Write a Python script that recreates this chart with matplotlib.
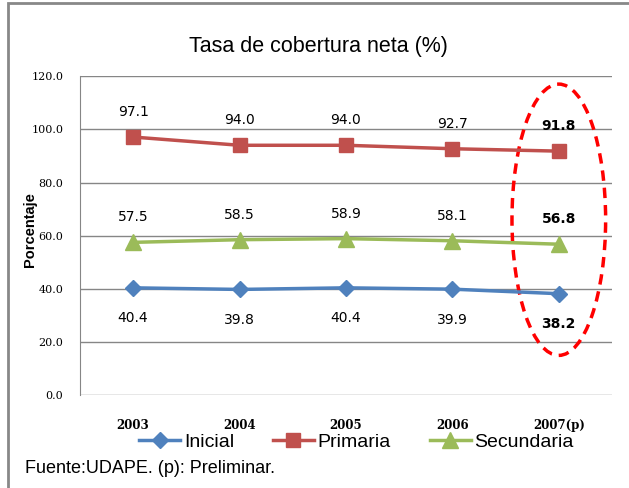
import matplotlib.pyplot as plt
from matplotlib.patches import Ellipse, Rectangle

years = ["2003", "2004", "2005", "2006", "2007(p)"]
inicial = [40.4, 39.8, 40.4, 39.9, 38.2]
primaria = [97.1, 94.0, 94.0, 92.7, 91.8]
secundaria = [57.5, 58.5, 58.9, 58.1, 56.8]
yticks = [0, 20, 40, 60, 80, 100, 120]

blue = "#4F81BD"
red = "#C0504D"
green = "#9BBB59"

fig = plt.figure(figsize=(6.29, 4.88), dpi=100)
ax = fig.add_axes([0.127, 0.19, 0.846, 0.654])

x = list(range(len(years)))
ax.plot(x, inicial, color=blue, lw=2.5, marker="D", ms=8, label="Inicial")
ax.plot(x, primaria, color=red, lw=2.5, marker="s", ms=10.5, label="Primaria")
ax.plot(x, secundaria, color=green, lw=2.5, marker="^", ms=11, label="Secundaria")

# data labels, last year in bold
for i in x:
    w = "bold" if i == len(x) - 1 else "normal"
    for vals, off in [(primaria, 18), (secundaria, 18), (inicial, -22)]:
        ax.annotate(f"{vals[i]:.1f}", (i, vals[i]), xytext=(0, off), textcoords="offset points",
                    ha="center", va="center", fontsize=10, fontweight=w, family="DejaVu Sans")

ax.set_xlim(-0.5, 4.5)
ax.set_ylim(0, 120)
ax.set_yticks(yticks)
ax.set_yticklabels([f"{v:.1f}" for v in yticks], family="DejaVu Serif", fontsize=8)
ax.set_xticks(x)
ax.set_xticklabels(years, family="DejaVu Serif", fontsize=8.5, fontweight="bold")
ax.tick_params(axis="both", length=0)
ax.tick_params(axis="y", pad=12)
ax.tick_params(axis="x", pad=17)
ax.grid(axis="y", color="#868686", lw=1)
ax.set_axisbelow(True)
for s in ["top", "right", "bottom"]:
    ax.spines[s].set_visible(False)
ax.spines["left"].set_color("#868686")

fig.text(0.047, 0.529, "Porcentaje", rotation=90, ha="center", va="center",
         fontsize=10.5, fontweight="bold", family="Liberation Sans")

# highlight ellipse around 2007
ell = Ellipse((4, 66), 0.88, 102, fill=False, ec="#FF0000", lw=2.5, ls=(0, (3, 2)), clip_on=False)
ax.add_patch(ell)

fig.text(0.506, 0.904, "Tasa de cobertura neta (%)", ha="center", va="center",
         fontsize=15.5, family="Liberation Sans")
fig.legend(loc="center", bbox_to_anchor=(0.567, 0.094), ncol=3, frameon=False,
           prop={"family": "Liberation Sans", "size": 14}, handlelength=2.1,
           columnspacing=2.0, handletextpad=0.2, borderaxespad=0)
fig.text(0.04, 0.04, "Fuente:UDAPE. (p): Preliminar.", ha="left", va="center",
         fontsize=13, family="Liberation Sans")

fig.add_artist(Rectangle((8 / 629, -0.1), 1.2, 1 - 3 / 488 + 0.1, transform=fig.transFigure,
                         fill=False, ec="#888888", lw=2))

fig.savefig("out.png", dpi=100)
